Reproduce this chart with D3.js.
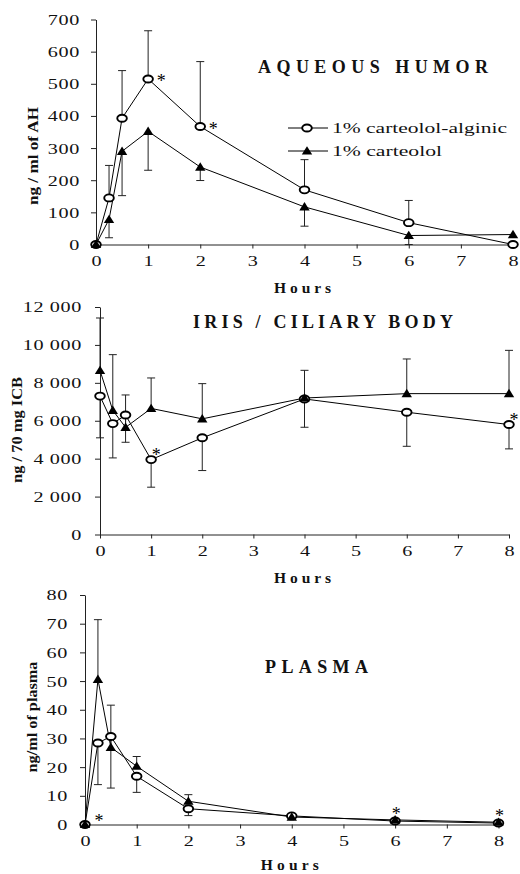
<!DOCTYPE html>
<html><head><meta charset="utf-8">
<script src="https://cdn.jsdelivr.net/npm/d3@7"></script>
<style>
body{margin:0;background:#fff}
svg{display:block}
text{font-family:"Liberation Serif","Times New Roman",serif;fill:#111}
</style>
</head><body>
<svg id="c" width="520" height="874"></svg>
<script>
// ---------- data ----------
const hours = [0, 0.25, 0.5, 1, 2, 4, 6, 8];
const xTicks = [0, 1, 2, 3, 4, 5, 6, 7, 8];
const seriesNames = ["1% carteolol-alginic", "1% carteolol"];

// Aqueous humor (ng / ml of AH)
const ahTicks = [0, 100, 200, 300, 400, 500, 600, 700];
const ahAlginic   = [0, 145, 393, 515, 367, 170, 68, 0];
const ahAlginicSD = [0, 101, 148, 150, 202, 94, 69, 0];
const ahCarteolol   = [0, 78, 290, 352, 241, 117, 28, 31];
const ahCarteololSD = [0, 57, 138, 121, 42, 60, 28, 0];
const ahStars = [[1, "pt"], [2, "pt"]];

// Iris / ciliary body (ng / 70 mg ICB)
const icbTicks = [0, 2000, 4000, 6000, 8000, 10000, 12000];
const icbAlginic   = [7300, 5850, 6300, 3950, 5100, 7150, 6450, 5800];
const icbAlginicSD = [2200, 1810, 1435, 1455, 1727, 1493, 1798, 1284];
const icbCarteolol   = [8650, 6550, 5650, 6650, 6100, 7200, 7430, 7430];
const icbCarteololSD = [2770, 2937, 1710, 1607, 1858, 1460, 1828, 2283];
const icbStars = [[1, "pt"], [8, "pt"]];

// Plasma (ng/ml of plasma)
const plTicks = [0, 10, 20, 30, 40, 50, 60, 70, 80];
const plAlginic   = [0, 28.4, 30.7, 16.8, 5.5, 3.0, 1.2, 0.5];
const plAlginicSD = [0, 14.5, 18.0, 5.6, 2.4, 0, 0, 0];
const plCarteolol   = [0, 50.6, 26.9, 20.3, 8.1, 2.6, 1.6, 0.8];
const plCarteololSD = [0, 20.8, 14.7, 3.4, 2.3, 0, 0, 0];
const plStars = [[0.25, "axis"], [6, "pt"], [8, "pt"]];

// ---------- layout ----------
const panels = [
  {title:"AQUEOUS HUMOR", tX:258, tY:73, tW:230,
   ylabel:"ng / ml of AH", lX:38, lY:156, lW:98,
   xr:[96,513], yr:[244.5,19.5], ymax:700, yTicks:ahTicks, yRight:80,
   alg:ahAlginic, algSD:ahAlginicSD, algDir:1,
   car:ahCarteolol, carSD:ahCarteololSD, carDir:-1,
   stars:ahStars, starDx:13, starDy:8, hY:293, hW:57, legend:true},
  {title:"IRIS / CILIARY BODY", tX:193, tY:328, tW:260,
   ylabel:"ng / 70 mg ICB", lX:22, lY:430, lW:106,
   xr:[100,509], yr:[534.5,307], ymax:12000, yTicks:icbTicks, yRight:82,
   alg:icbAlginic, algSD:icbAlginicSD, algDir:-1,
   car:icbCarteolol, carSD:icbCarteololSD, carDir:1,
   stars:icbStars, starDx:5, starDy:1, hY:583, hW:57, legend:false},
  {title:"PLASMA", tX:265, tY:673, tW:103,
   ylabel:"ng/ml of plasma", lX:37, lY:717, lW:111,
   xr:[85,498.5], yr:[824.5,595], ymax:80, yTicks:plTicks, yRight:68,
   alg:plAlginic, algSD:plAlginicSD, algDir:-1,
   car:plCarteolol, carSD:plCarteololSD, carDir:1,
   stars:plStars, starDx:1, starDy:-1, hY:870, hW:58, legend:false}
];

const svg = d3.select("#c");
const loc = d3.formatLocale({decimal:".", thousands:" ", grouping:[3], currency:["",""]});
const fmt = loc.format(",");
const SX = 1.3; // horizontal stretch of tick numerals
const triPath = "M0,-4.8L5.2,3.6L-5.2,3.6Z";

function drawCircle(g, x, y){
  g.append("ellipse").attr("cx",x).attr("cy",y).attr("rx",4.8).attr("ry",3.5)
    .attr("fill","#fff").attr("stroke","#000").attr("stroke-width",1.9);
}
function drawTri(g, x, y){
  g.append("path").attr("d",triPath).attr("transform",`translate(${x},${y})`).attr("fill","#000");
}

panels.forEach(p => {
  const x = d3.scaleLinear().domain([0,8]).range(p.xr);
  const y = d3.scaleLinear().domain([0,p.ymax]).range(p.yr);
  const g = svg.append("g");

  // axes
  const xa = g.append("g").attr("transform",`translate(0,${p.yr[0]})`)
    .call(d3.axisBottom(x).tickValues(xTicks).tickSizeInner(4).tickSizeOuter(0).tickPadding(7).tickFormat(d3.format("d")));
  const ya = g.append("g").attr("transform",`translate(${p.xr[0]},0)`)
    .call(d3.axisLeft(y).tickValues(p.yTicks).tickSizeInner(5).tickSizeOuter(0).tickFormat(fmt));
  [xa, ya].forEach(a => {
    a.select(".domain").attr("stroke","#222").attr("stroke-width",1);
    a.selectAll(".tick line").attr("stroke","#222");
    a.selectAll("text").attr("font-size",15.5).attr("fill","#111")
      .style("font-family",'"Liberation Serif","Times New Roman",serif');
  });
  xa.selectAll("text").attr("transform",`scale(${SX},1)`).attr("x",0).attr("y",10.5);
  ya.selectAll("text").attr("transform",`scale(${SX},1)`)
    .attr("x", -(p.xr[0]-p.yRight)/SX).style("letter-spacing","0.5px");

  // error bars
  const eb = (vals, sds, dir) => {
    hours.forEach((h,i) => {
      if (!sds[i]) return;
      const v0 = vals[i], v1 = Math.max(0, vals[i] + dir*sds[i]);
      g.append("line").attr("x1",x(h)).attr("x2",x(h)).attr("y1",y(v0)).attr("y2",y(v1))
        .attr("stroke","#222").attr("stroke-width",1);
      g.append("line").attr("x1",x(h)-4).attr("x2",x(h)+4).attr("y1",y(v1)).attr("y2",y(v1))
        .attr("stroke","#222").attr("stroke-width",1);
    });
  };
  eb(p.alg, p.algSD, p.algDir);
  eb(p.car, p.carSD, p.carDir);

  // lines
  const line = d3.line().x((d,i)=>x(hours[i])).y(d=>y(d));
  g.append("path").datum(p.alg).attr("d",line).attr("fill","none").attr("stroke","#000").attr("stroke-width",1);
  g.append("path").datum(p.car).attr("d",line).attr("fill","none").attr("stroke","#000").attr("stroke-width",1);

  // markers
  p.alg.forEach((v,i)=>drawCircle(g, x(hours[i]), y(v)));
  p.car.forEach((v,i)=>drawTri(g, x(hours[i]), y(v)));

  // significance stars
  p.stars.forEach(([h, anchor]) => {
    const i = hours.indexOf(h);
    let sx = x(h), sy;
    if (anchor === "axis") { sx += 1; sy = y(0) + 2.5; }
    else if (p.hY > 800) { sx += 1; sy = Math.min(y(p.alg[i]), y(p.car[i])) - 0; }
    else { sx += p.starDx; sy = y(p.alg[i]) + p.starDy; }
    g.append("text").attr("x",sx).attr("y",sy).attr("text-anchor","middle")
      .attr("font-size",18).attr("fill","#000").style("fill","#000").text("*");
  });

  // title
  g.append("text").attr("x",p.tX).attr("y",p.tY).attr("font-size",18).attr("font-weight","bold")
    .attr("textLength",p.tW).attr("lengthAdjust","spacing").text(p.title);
  // y label
  g.append("text").attr("transform",`translate(${p.lX},${p.lY}) rotate(-90)`)
    .attr("text-anchor","middle").attr("font-size",15).attr("font-weight","bold")
    .attr("textLength",p.lW).attr("lengthAdjust","spacingAndGlyphs").text(p.ylabel);
  // x label
  g.append("text").attr("x",x(4)-p.hW/2-2).attr("y",p.hY).attr("font-size",15.5).attr("font-weight","bold")
    .attr("textLength",p.hW).attr("lengthAdjust","spacing").text("Hours");

  // legend
  if (p.legend) {
    const lg = g.append("g");
    [[128, seriesNames[0], 175, drawCircle], [151, seriesNames[1], 110, drawTri]].forEach(([ly, name, w, fn]) => {
      lg.append("line").attr("x1",288).attr("x2",328).attr("y1",ly).attr("y2",ly).attr("stroke","#000");
      fn(lg, 307, ly);
      lg.append("text").attr("x",332).attr("y",ly+5).attr("font-size",14.5)
        .attr("textLength",w).attr("lengthAdjust","spacingAndGlyphs").text(name);
    });
  }
});
</script>
</body></html>
